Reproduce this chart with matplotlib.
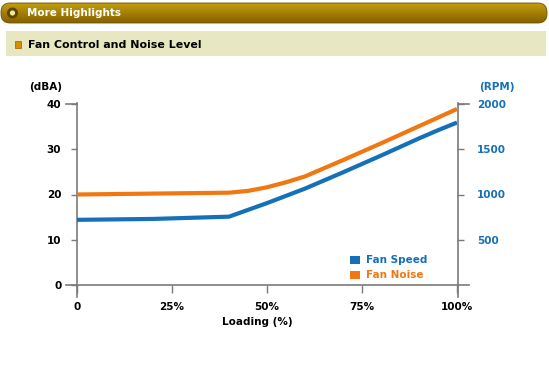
import matplotlib
matplotlib.use("Agg")
import matplotlib.pyplot as plt
import numpy as np
from matplotlib.patches import FancyBboxPatch, Rectangle, Circle
from matplotlib.lines import Line2D

# ---- data ----
loading = [0, 20, 40, 45, 50, 55, 60, 70, 80, 90, 95, 100]
noise_dba = [20.0, 20.2, 20.4, 20.8, 21.6, 22.7, 24.0, 27.6, 31.3, 35.1, 37.0, 38.9]
speed_rpm = [720, 730, 755, 830, 905, 985, 1065, 1245, 1430, 1620, 1710, 1795]
x_ticks = [0, 25, 50, 75, 100]
x_tick_labels = ["0", "25%", "50%", "75%", "100%"]
dba_ticks = [0, 10, 20, 30, 40]
rpm_ticks = [500, 1000, 1500, 2000]

W, H = 549, 370
BLUE = "#1570b8"
ORANGE = "#f07812"
AXC = "#7a7a7a"

fig = plt.figure(figsize=(W / 100, H / 100), dpi=100)
fig.patch.set_facecolor("white")

# ---- header overlay axes in pixel coords ----
hdr = fig.add_axes([0, 0, 1, 1])
hdr.set_xlim(0, W)
hdr.set_ylim(H, 0)
hdr.axis("off")

# gold gradient bar
grad = np.linspace(0, 1, 64).reshape(-1, 1)
top_c = np.array([0.76, 0.62, 0.05])
bot_c = np.array([0.52, 0.38, 0.0])
img = top_c * (1 - grad[..., None]) + bot_c * grad[..., None]
img = np.repeat(img, 2, axis=1)
im = hdr.imshow(img, extent=[1, 547, 23, 3], aspect="auto", zorder=1)
bar = FancyBboxPatch((1, 3), 546, 20, boxstyle="round,pad=0,rounding_size=9",
                     facecolor="none", edgecolor="#6e5200", lw=0.6, zorder=2)
hdr.add_patch(bar)
im.set_clip_path(bar)
hdr.add_patch(Circle((12.5, 13), 5.5, facecolor="#5e4600", edgecolor="none", zorder=3))
hdr.add_patch(Circle((12.5, 13), 2.6, facecolor="#f3e6a0", edgecolor="none", zorder=4))
hdr.text(27, 13.5, "More Highlights", color="white", fontsize=7.5, fontweight="bold",
         family="DejaVu Sans", va="center", ha="left", zorder=5)

# beige subtitle bar
hdr.add_patch(Rectangle((6, 31), 540, 25, facecolor="#e7e8c2", edgecolor="none", zorder=1))
hdr.add_patch(Rectangle((15, 41), 6, 7, facecolor="#d98c00", edgecolor="#9a6000", lw=0.5, zorder=2))
hdr.text(28, 44.5, "Fan Control and Noise Level", color="black", fontsize=7.9,
         fontweight="bold", family="DejaVu Sans", va="center", ha="left", zorder=3)

# ---- chart axes ----
x0, x1, y0, y1 = 77, 457, 285, 104
ax = fig.add_axes([x0 / W, 1 - y0 / H, (x1 - x0) / W, (y0 - y1) / H])
ax.set_facecolor("none")
ax.set_xlim(0, 100)
ax.set_ylim(0, 40)
for s in ax.spines.values():
    s.set_visible(False)

ax2 = ax.twinx()
ax2.set_ylim(0, 2000)
for s in ax2.spines.values():
    s.set_visible(False)

ax.plot(loading, noise_dba, color=ORANGE, lw=3, solid_capstyle="butt",
        solid_joinstyle="round", zorder=3)
ax2.plot(loading, speed_rpm, color=BLUE, lw=3, solid_capstyle="butt",
         solid_joinstyle="round", zorder=3)

tick_font = dict(family="DejaVu Sans", fontweight="bold", fontsize=7.5)
ax.set_xticks(x_ticks)
ax.set_xticklabels(x_tick_labels, **tick_font)
ax.set_yticks(dba_ticks)
ax.set_yticklabels([str(v) for v in dba_ticks], **tick_font)
ax2.set_yticks(rpm_ticks)
ax2.set_yticklabels([str(v) for v in rpm_ticks], color=BLUE, **tick_font)

ax.tick_params(axis="x", direction="out", length=5.5, width=1, color=AXC, pad=6.5)
ax.tick_params(axis="y", direction="out", length=4.3, width=1, color=AXC, pad=7)
ax2.tick_params(axis="y", direction="out", length=5, width=1, color=AXC, pad=9.5)

# axis lines (extended beyond plot like the reference)
def fline(xs, ys):
    hdr.add_line(Line2D(xs, ys, color=AXC, lw=1.2, zorder=6))

fline([66, 469], [285, 285])      # x axis
fline([77, 77], [103, 297])       # left axis
fline([457.5, 457.5], [103, 297]) # right axis
fline([66, 77], [104, 104])       # 40 tick extension
fline([457.5, 469], [104, 104])   # 2000 tick extension

# axis titles
hdr.text(62, 87, "(dBA)", ha="right", va="center", color="black", **tick_font)
hdr.text(479, 87, "(RPM)", ha="left", va="center", color=BLUE, **tick_font)
hdr.text(257, 322, "Loading (%)", ha="center", va="center", color="black", **tick_font)

# legend
hdr.add_patch(Rectangle((350, 256), 10, 8, facecolor=BLUE, edgecolor="none", zorder=6))
hdr.add_patch(Rectangle((350, 271), 10, 8, facecolor=ORANGE, edgecolor="none", zorder=6))
hdr.text(366, 260, "Fan Speed", color=BLUE, ha="left", va="center", **tick_font)
hdr.text(366, 275, "Fan Noise", color=ORANGE, ha="left", va="center", **tick_font)

fig.savefig("out.png", dpi=100)
